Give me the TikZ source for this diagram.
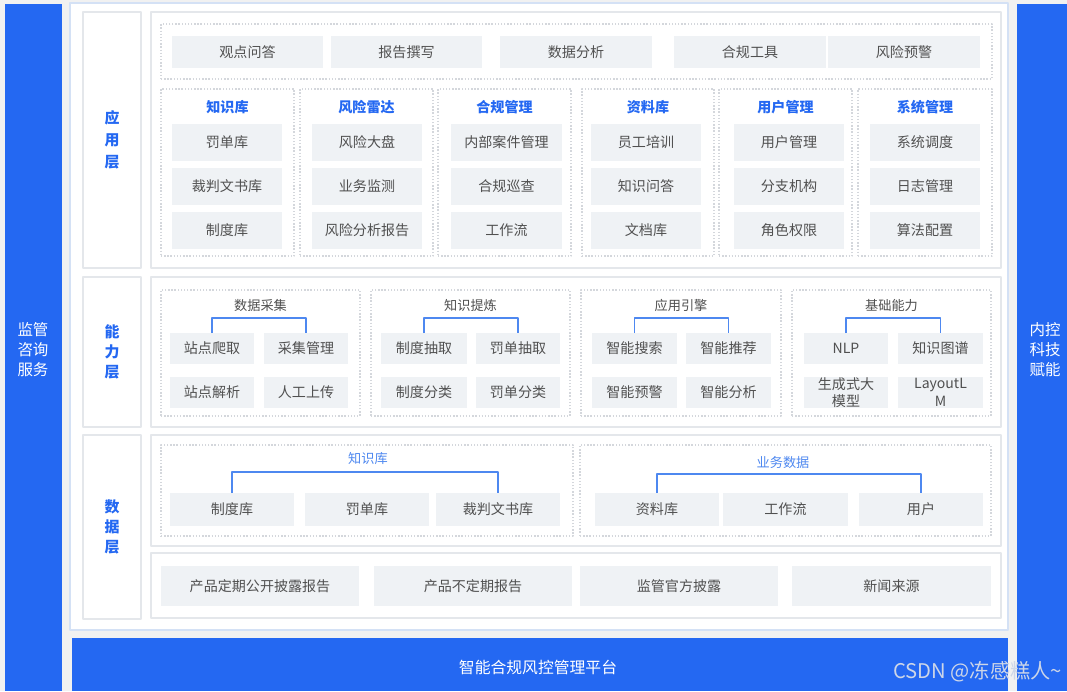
\documentclass[tikz,border=0pt]{standalone}
\usepackage{fontspec}
\setmainfont{Noto Sans CJK SC}
\usetikzlibrary{fit}

\definecolor{mainblue}{RGB}{36,104,242}
\definecolor{lineblue}{RGB}{78,136,240}
\definecolor{cellgray}{RGB}{239,242,245}
\definecolor{edgegray}{RGB}{228,231,235}
\definecolor{dotgray}{RGB}{212,215,220}
\definecolor{textgray}{RGB}{80,80,80}
\definecolor{pagegray}{RGB}{241,241,241}
\definecolor{rimblue}{RGB}{212,225,245}

\begin{document}
\begin{tikzpicture}[x=0.02cm, y=-0.02cm, line join=round,
  every node/.style={inner sep=0pt, outer sep=0pt},
  panel/.style={draw=edgegray, fill=white, line width=1pt},
  dotbox/.style={draw=dotgray, line width=0.8pt, dash pattern=on 0.8pt off 1pt},
  cell/.style={fill=cellgray},
  celltext/.style={text=textgray, align=center, font=\fontsize{8}{10}\selectfont},
  modtitle/.style={text=mainblue, font=\fontsize{8}{10}\selectfont\bfseries},
  grouptitle/.style={text=textgray, font=\fontsize{7.5}{9}\selectfont},
  datatitle/.style={text=lineblue, font=\fontsize{7.5}{9}\selectfont},
  layertag/.style={text=mainblue, align=center, font=\fontsize{8.5}{11.4}\selectfont\bfseries},
  sidetag/.style={text=white, align=center, font=\fontsize{8.8}{11.4}\selectfont},
  bracket/.style={draw=lineblue, line width=1.1pt}]

  \useasboundingbox (0,0) rectangle (1067,691);
  \fill[pagegray] (0,0) rectangle (1067,691);

  % side bars and platform bar
  \fill[mainblue] (5,4) rectangle (62,691);
  \fill[mainblue] (1017,4) rectangle (1067,691);
  \node[sidetag] (svc) at (33,350) {监管\\咨询\\服务};
  \node[sidetag] (ctl) at (1045,350) {内控\\科技\\赋能};
  \draw[rimblue, fill=white, line width=1.2pt] (70,3) rectangle (1008,630);
  \node[fill=mainblue, fit={(72,638) (1008,691)}] (base) {};
  \node[text=white, font=\fontsize{9}{11}\selectfont] (plat) at (538,667) {智能合规风控管理平台};
  \node[text={rgb,255:red,205;green,214;blue,232}, font=\fontsize{11.5}{13}\selectfont, anchor=east] (mark) at (1062,672) {CSDN @冻感糕人\textasciitilde};

  % layer frames
  \node[panel, fit={(83,12) (141,268)}] (appL) {};
  \node[panel, fit={(151,12) (1001,268)}] (appC) {};
  \node[panel, fit={(83,277) (141,427)}] (capL) {};
  \node[panel, fit={(151,277) (1001,427)}] (capC) {};
  \node[panel, fit={(83,435) (141,619)}] (datL) {};
  \node[panel, fit={(151,435) (1001,546)}] (datC) {};
  \node[panel, fit={(151,553) (1001,618)}] (srcC) {};
  \node[layertag, font=\fontsize{8.5}{12.6}\selectfont\bfseries] (appT) at (appL) {应\\用\\层};
  \node[layertag] (capT) at (capL) {能\\力\\层};
  \node[layertag] (datT) at (datL) {数\\据\\层};

  % application layer
  \node[dotbox, fit={(161,24) (992,79)}] (tools) {};
  \foreach \n/\a/\b/\t in {1/172/323/观点问答, 2/331/482/报告撰写, 3/500/652/数据分析,
                           4/674/826/合规工具, 5/828/980/风险预警}
    \node[cell, fit={(\a,36) (\b,68)}, label={[celltext]center:\t}] (tool-\n) {};

  \foreach \n/\a/\b/\c/\d/\t/\p/\q/\r in {
      1/161/294/172/282/知识库/罚单库/裁判文书库/制度库,
      2/300/433/312/422/风险雷达/风险大盘/业务监测/风险分析报告,
      3/438/571/451/562/合规管理/内部案件管理/合规巡查/工作流,
      4/582/714/591/701/资料库/员工培训/知识问答/文档库,
      5/719/852/734/844/用户管理/用户管理/分支机构/角色权限,
      6/858/992/870/980/系统管理/系统调度/日志管理/算法配置} {
    \node[dotbox, fit={(\a,89) (\b,256)}] (mod\n) {};
    \node[modtitle] (mod\n-t) at ({(\a+\b)/2},107) {\t};
    \node[cell, fit={(\c,124) (\d,161)}, label={[celltext]center:\p}] (mod\n-a) {};
    \node[cell, fit={(\c,168) (\d,205)}, label={[celltext]center:\q}] (mod\n-b) {};
    \node[cell, fit={(\c,212) (\d,249)}, label={[celltext]center:\r}] (mod\n-c) {};
  }

  % capability layer
  \foreach \n/\a/\b/\t/\c/\d/\e/\f/\p/\q/\r/\s in {
      1/161/360/数据采集/170/254/264/348/站点爬取/采集管理/站点解析/人工上传,
      2/371/570/知识提炼/381/467/476/560/制度抽取/罚单抽取/制度分类/罚单分类,
      3/581/781/应用引擎/592/677/686/771/智能搜索/智能推荐/智能预警/智能分析,
      4/792/991/基础能力/804/888/898/983/NLP/知识图谱/{生成式大\\模型}/{LayoutL\\M}} {
    \node[dotbox, fit={(\a,290) (\b,416)}] (cap\n) {};
    \node[grouptitle] (cap\n-t) at ({(\a+\b)/2},305) {\t};
    \node[cell, fit={(\c,333) (\d,364)}, label={[celltext]center:\p}] (cap\n-a) {};
    \node[cell, fit={(\e,333) (\f,364)}, label={[celltext]center:\q}] (cap\n-b) {};
    \node[cell, fit={(\c,377) (\d,408)}, label={[celltext]center:{\r}}] (cap\n-c) {};
    \node[cell, fit={(\e,377) (\f,408)}, label={[celltext]center:{\s}}] (cap\n-d) {};
    \draw[bracket] (cap\n-a.north) -- ++(0,-15) -| (cap\n-b.north);
  }

  % data layer
  \node[dotbox, fit={(161,445) (573,536)}] (kb) {};
  \node[datatitle] (kb-t) at (368,459) {知识库};
  \node[cell, fit={(170,493) (294,526)}, label={[celltext]center:制度库}] (kb-1) {};
  \node[cell, fit={(305,493) (429,526)}, label={[celltext]center:罚单库}] (kb-2) {};
  \node[cell, fit={(436,493) (560,526)}, label={[celltext]center:裁判文书库}] (kb-3) {};
  \draw[bracket] (kb-1.north) -- ++(0,-21) -| (kb-3.north);

  \node[dotbox, fit={(580,445) (991,536)}] (biz) {};
  \node[datatitle] (biz-t) at (783,462) {业务数据};
  \node[cell, fit={(595,493) (719,526)}, label={[celltext]center:资料库}] (biz-1) {};
  \node[cell, fit={(723,493) (848,526)}, label={[celltext]center:工作流}] (biz-2) {};
  \node[cell, fit={(859,493) (983,526)}, label={[celltext]center:用户}] (biz-3) {};
  \draw[bracket] (biz-1.north) -- ++(0,-19) -| (biz-3.north);

  \foreach \n/\a/\b/\t in {1/161/359/产品定期公开披露报告, 2/374/572/产品不定期报告,
                           3/580/778/监管官方披露, 4/792/991/新闻来源}
    \node[cell, fit={(\a,566) (\b,606)}, label={[celltext]center:\t}] (src-\n) {};
\end{tikzpicture}
\end{document}
